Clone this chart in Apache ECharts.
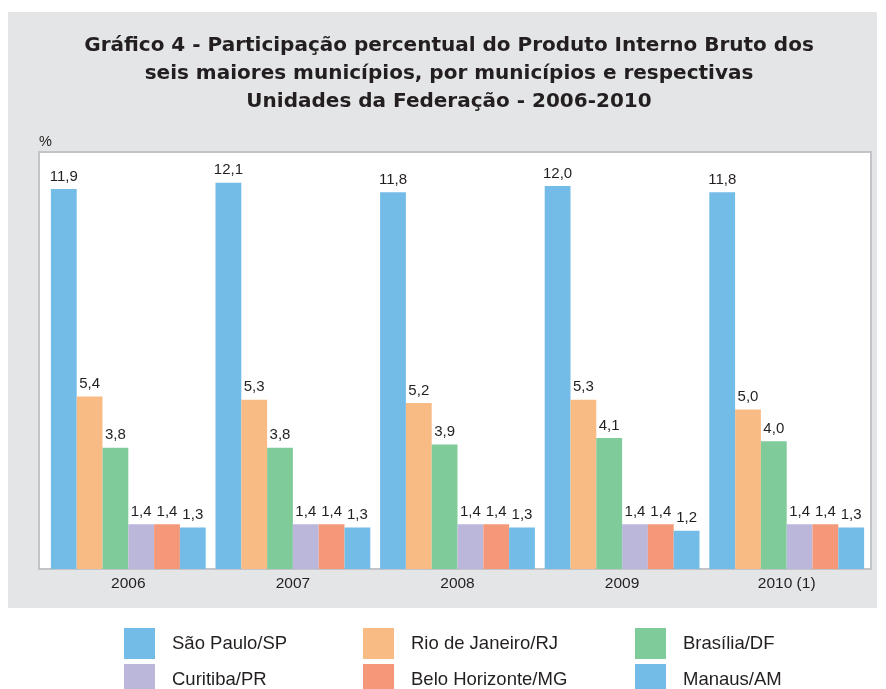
<!DOCTYPE html>
<html>
<head>
<meta charset="utf-8">
<script src="https://cdn.jsdelivr.net/npm/echarts@6/dist/echarts.min.js"></script>
<style>
  html, body { margin: 0; padding: 0; background: #fff; }
  #main { width: 886px; height: 689px; }
</style>
</head>
<body>
<div id="main"></div>
<script>
// anos (categorias)
var anos = ['2006', '2007', '2008', '2009', '2010 (1)'];

// participação percentual no PIB, por município
var saoPaulo      = [11.9, 12.1, 11.8, 12.0, 11.8];
var rioDeJaneiro  = [5.4, 5.3, 5.2, 5.3, 5.0];
var brasilia      = [3.8, 3.8, 3.9, 4.1, 4.0];
var curitiba      = [1.4, 1.4, 1.4, 1.4, 1.4];
var beloHorizonte = [1.4, 1.4, 1.4, 1.4, 1.4];
var manaus        = [1.3, 1.3, 1.3, 1.2, 1.3];

var nomes = ['São Paulo/SP', 'Rio de Janeiro/RJ', 'Brasília/DF',
             'Curitiba/PR', 'Belo Horizonte/MG', 'Manaus/AM'];
var cores = ['#73bce8', '#f9bb84', '#80cb9a', '#bab7db', '#f59879', '#73bce8'];
var dados = [saoPaulo, rioDeJaneiro, brasilia, curitiba, beloHorizonte, manaus];

var fonte = '"Liberation Sans", Arial, sans-serif';
var texto = '#231f20';

var chart = echarts.init(document.getElementById('main'));

// posição das legendas (duas linhas, três colunas)
var legLeft = [124, 363, 635, 124, 363, 635];
var legTop  = [628, 628, 628, 664, 664, 664];

var legends = nomes.map(function (n, i) {
    return {
        data: [n],
        left: legLeft[i],
        top: legTop[i],
        padding: 0,
        icon: 'rect',
        itemWidth: 31,
        itemHeight: 31,
        selectedMode: false,
        textStyle: {
            fontFamily: fonte,
            fontSize: 18.5,
            color: texto,
            padding: [0, 0, 0, 12]
        }
    };
});

var series = dados.map(function (d, i) {
    return {
        name: nomes[i],
        type: 'bar',
        barWidth: 25.8,
        barGap: '0%',
        itemStyle: { color: cores[i] },
        label: {
            show: true,
            position: 'top',
            distance: 5,
            fontFamily: fonte,
            fontSize: 15,
            color: texto,
            formatter: function (p) {
                return p.value.toFixed(1).replace('.', ',');
            }
        },
        data: d
    };
});

var option = {
    backgroundColor: '#ffffff',
    animation: false,
    title: {
        text: 'Gráfico 4 - Participação percentual do Produto Interno Bruto dos\nseis maiores municípios, por municípios e respectivas\nUnidades da Federação - 2006-2010',
        left: 449,
        top: 32,
        textAlign: 'center',
        padding: 0,
        textStyle: {
            fontFamily: '"DejaVu Sans", sans-serif',
            fontWeight: 'bold',
            fontSize: 20,
            lineHeight: 28,
            color: texto,
            align: 'center'
        }
    },
    graphic: [
        {
            type: 'rect',
            z: -10,
            shape: { x: 8, y: 12, width: 869, height: 596 },
            style: { fill: '#e4e5e7' }
        },
        {
            type: 'rect',
            z: -9,
            shape: { x: 39, y: 152, width: 832, height: 417 },
            style: { fill: '#ffffff', stroke: '#c3c4c8', lineWidth: 2 }
        },
        {
            type: 'text',
            z: -8,
            left: 39,
            top: 134,
            style: { text: '%', fontFamily: fonte, fontSize: 14.5, fill: texto }
        }
    ],
    legend: legends,
    grid: {
        left: 46,
        top: 154,
        width: 823,
        height: 415,
        containLabel: false
    },
    xAxis: {
        type: 'category',
        data: anos,
        axisLine: { show: false },
        axisTick: { show: false },
        axisLabel: {
            fontFamily: fonte,
            fontSize: 15.5,
            color: texto,
            margin: 7
        }
    },
    yAxis: {
        type: 'value',
        min: 0,
        max: 13,
        axisLine: { show: false },
        axisTick: { show: false },
        axisLabel: { show: false },
        splitLine: { show: false }
    },
    series: series
};

chart.setOption(option);
</script>
</body>
</html>
